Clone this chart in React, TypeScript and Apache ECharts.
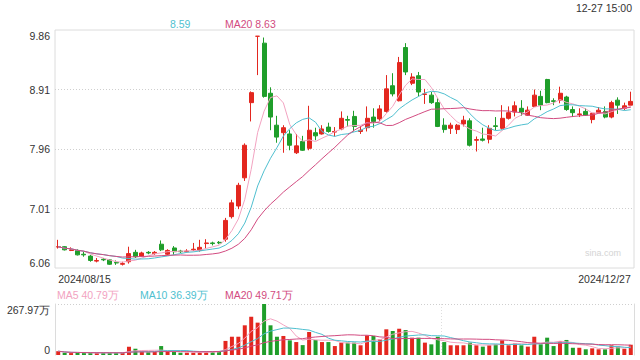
import React, { useEffect, useRef } from "react";
import * as echarts from "echarts";

const dates = (
  "2024/08/15 2024/08/16 2024/08/19 2024/08/20 2024/08/21 2024/08/22 2024/08/23 2024/08/26 2024/08/27 2024/08/28 2024/08/29 2024/08/30 " +
  "2024/09/02 2024/09/03 2024/09/04 2024/09/05 2024/09/06 2024/09/09 2024/09/10 2024/09/11 2024/09/12 2024/09/13 2024/09/18 2024/09/19 2024/09/20 2024/09/23 2024/09/24 2024/09/25 2024/09/26 2024/09/27 2024/09/30 " +
  "2024/10/08 2024/10/09 2024/10/10 2024/10/11 2024/10/14 2024/10/15 2024/10/16 2024/10/17 2024/10/18 2024/10/21 2024/10/22 2024/10/23 2024/10/24 2024/10/25 2024/10/28 2024/10/29 2024/10/30 2024/10/31 " +
  "2024/11/01 2024/11/04 2024/11/05 2024/11/06 2024/11/07 2024/11/08 2024/11/11 2024/11/12 2024/11/13 2024/11/14 2024/11/15 2024/11/18 2024/11/19 2024/11/20 2024/11/21 2024/11/22 2024/11/25 2024/11/26 2024/11/27 2024/11/28 2024/11/29 " +
  "2024/12/02 2024/12/03 2024/12/04 2024/12/05 2024/12/06 2024/12/09 2024/12/10 2024/12/11 2024/12/12 2024/12/13 2024/12/16 2024/12/17 2024/12/18 2024/12/19 2024/12/20 2024/12/23 2024/12/24 2024/12/25 2024/12/26 2024/12/27"
).split(" ");

const opens = [
  6.395, 6.40, 6.34, 6.34, 6.28, 6.25, 6.17, 6.20, 6.19, 6.15, 6.12, 6.16, 6.31, 6.25, 6.31, 6.29, 6.44, 6.28, 6.38, 6.33,
  6.32, 6.35, 6.34, 6.45, 6.46, 6.47, 6.52, 6.88, 7.05, 7.50, 8.70, 9.76, 9.65, 8.85, 8.34, 8.22, 8.20, 7.90, 8.08, 7.97,
  8.22, 8.20, 8.31, 8.23, 8.28, 8.43, 8.48, 8.24, 8.30, 8.47, 8.44, 8.56, 8.97, 8.73, 9.58, 9.01, 9.13, 8.83, 8.82, 8.70,
  8.34, 8.29, 8.27, 8.36, 8.41, 8.10, 8.12, 8.115, 8.33, 8.29, 8.45, 8.55, 8.61, 8.50, 8.64, 8.80, 9.07, 8.73, 8.74, 8.79,
  8.59, 8.51, 8.56, 8.43, 8.54, 8.56, 8.47, 8.74, 8.61, 8.66,
];
const closes = [
  6.40, 6.35, 6.35, 6.27, 6.27, 6.18, 6.18, 6.19, 6.12, 6.14, 6.13, 6.29, 6.24, 6.30, 6.30, 6.31, 6.35, 6.34, 6.32, 6.32,
  6.33, 6.36, 6.39, 6.46, 6.45, 6.46, 6.82, 7.10, 7.38, 8.02, 8.86, 9.76, 8.80, 8.47, 8.15, 8.30, 8.02, 8.01, 7.94, 8.26,
  8.17, 8.28, 8.24, 8.24, 8.45, 8.42, 8.32, 8.26, 8.45, 8.40, 8.60, 8.92, 8.84, 9.34, 9.19, 9.11, 8.87, 8.84, 8.70, 8.32,
  8.27, 8.34, 8.34, 8.42, 8.02, 8.11, 8.10, 8.29, 8.32, 8.45, 8.54, 8.65, 8.55, 8.58, 8.82, 8.66, 8.70, 8.72, 8.85, 8.59,
  8.54, 8.52, 8.50, 8.53, 8.58, 8.47, 8.70, 8.66, 8.65, 8.72,
];
const lows = [
  6.37, 6.34, 6.33, 6.26, 6.24, 6.16, 6.15, 6.17, 6.11, 6.11, 6.10, 6.13, 6.22, 6.24, 6.28, 6.27, 6.33, 6.26, 6.27, 6.30,
  6.31, 6.33, 6.32, 6.37, 6.42, 6.44, 6.48, 6.85, 7.00, 7.45, 8.40, 9.14, 8.78, 8.26, 8.06, 7.90, 7.94, 7.88, 7.93, 7.94,
  8.10, 8.19, 8.22, 8.16, 8.26, 8.32, 8.24, 8.20, 8.24, 8.30, 8.40, 8.54, 8.80, 8.72, 9.14, 8.98, 8.80, 8.68, 8.68, 8.31,
  8.22, 8.20, 8.20, 8.32, 8.00, 7.92, 8.08, 8.05, 8.26, 8.27, 8.43, 8.48, 8.49, 8.49, 8.63, 8.58, 8.69, 8.66, 8.69, 8.57,
  8.47, 8.47, 8.49, 8.37, 8.53, 8.45, 8.45, 8.52, 8.58, 8.66,
];
const highs = [
  6.51, 6.41, 6.39, 6.36, 6.32, 6.27, 6.22, 6.22, 6.20, 6.18, 6.16, 6.40, 6.35, 6.32, 6.33, 6.33, 6.50, 6.36, 6.41, 6.35,
  6.36, 6.46, 6.51, 6.52, 6.48, 6.49, 6.86, 7.15, 7.42, 8.05, 8.88, 9.76, 9.74, 8.945, 8.49, 8.34, 8.26, 8.20, 8.17, 8.65,
  8.30, 8.34, 8.38, 8.31, 8.56, 8.49, 8.57, 8.32, 8.64, 8.61, 8.66, 9.14, 9.17, 9.43, 9.65, 9.17, 9.19, 8.92, 8.87, 8.77,
  8.45, 8.38, 8.36, 8.49, 8.45, 8.16, 8.30, 8.34, 8.47, 8.66, 8.64, 8.72, 8.74, 8.64, 8.91, 8.89, 9.08, 8.77, 8.955, 8.81,
  8.64, 8.61, 8.61, 8.54, 8.63, 8.64, 8.73, 8.785, 8.70, 8.875,
];
// volume in 万 (10k shares)
const volumes = [
  20, 12, 10, 12, 10, 12, 10, 11, 12, 11, 12, 44, 33, 18, 14, 16, 47, 20, 16, 12,
  12, 12, 16, 16, 16, 21, 74, 96, 96, 156, 201, 170, 268, 156, 96, 100, 77, 68, 52, 121,
  79, 68, 68, 47, 65, 65, 65, 51, 103, 100, 82, 135, 126, 138, 131, 91, 91, 65, 56, 96,
  68, 51, 51, 51, 65, 51, 44, 51, 56, 77, 51, 61, 51, 44, 96, 56, 91, 47, 73, 79,
  38, 38, 30, 35, 30, 30, 51, 44, 33, 54,
];

const priceTicks = [6.06, 7.01, 7.96, 8.91, 9.86];
const volumeTicks = [0, 267.97];
const priceLegend = [
  { name: "MA10", value: "8.59", color: "#4fbfcf", x: 170, text: "8.59" },
  { name: "MA20", value: "8.63", color: "#d24b80", x: 225, text: "MA20 8.63" },
];
const volumeLegend = [
  { text: "MA5 40.79万", color: "#f2a3c1", x: 57 },
  { text: "MA10 36.39万", color: "#4fbfcf", x: 140 },
  { text: "MA20 49.71万", color: "#d24b80", x: 225 },
];

const UP = "#e3271f";
const DOWN = "#1f9e2a";
const MA5C = "#f2a3c1";
const MA10C = "#4fbfcf";
const MA20C = "#d24b80";
const FONT = "'Liberation Sans', Arial, Helvetica, sans-serif";

function movingAvg(arr: number[], n: number) {
  return arr.map((_, i) => {
    const s = Math.max(0, i - n + 1);
    let sum = 0;
    for (let k = s; k <= i; k++) sum += arr[k];
    return +(sum / (i - s + 1)).toFixed(3);
  });
}

export default function App() {
  const ref = useRef<HTMLDivElement>(null);
  useEffect(() => {
    if (!ref.current) return;
    const chart = echarts.init(ref.current, undefined, { renderer: "svg" });
    const kData = opens.map((o, i) => [o, closes[i], lows[i], highs[i]]);
    const volData = volumes.map((v, i) => ({
      value: v,
      itemStyle: { color: closes[i] >= opens[i] ? UP : DOWN },
    }));
    const lineS = (name: string, data: number[], color: string, xi: number, yi: number) => ({
      type: "line",
      name,
      data,
      xAxisIndex: xi,
      yAxisIndex: yi,
      symbol: "none",
      lineStyle: { color, width: 1 },
      z: 3,
      silent: true,
    });
    const option: any = {
      animation: false,
      textStyle: { fontFamily: FONT },
      grid: [
        { left: 55, right: 6, top: 30, height: 238, show: true, borderColor: "#dcdcdc", borderWidth: 1 },
        { left: 55, right: 6, top: 304, height: 51 },
      ],
      xAxis: [
        {
          type: "category",
          data: dates,
          gridIndex: 0,
          boundaryGap: true,
          axisLine: { show: false },
          axisTick: { show: false },
          splitLine: { show: false },
          axisLabel: {
            show: true,
            interval: (idx: number) => idx === 0 || idx === dates.length - 1,
            color: "#333",
            fontSize: 10.5,
            margin: 5,
            alignMinLabel: "left",
            alignMaxLabel: "right",
            showMinLabel: true,
            showMaxLabel: true,
          },
        },
        {
          type: "category",
          data: dates,
          gridIndex: 1,
          boundaryGap: true,
          axisLine: { show: false },
          axisTick: { show: false },
          axisLabel: { show: false },
          splitLine: { show: false },
        },
      ],
      yAxis: [
        {
          type: "value",
          gridIndex: 0,
          min: priceTicks[0],
          max: priceTicks[priceTicks.length - 1],
          interval: +(priceTicks[1] - priceTicks[0]).toFixed(2),
          axisLine: { show: false },
          axisTick: { show: false },
          axisLabel: {
            color: "#333",
            fontSize: 10.5,
            margin: 5,
            formatter: (v: number) => v.toFixed(2),
            verticalAlignMinLabel: "bottom",
            verticalAlignMaxLabel: "top",
          },
          splitLine: {
            show: true,
            showMinLine: false,
            showMaxLine: false,
            lineStyle: { color: "#cfcfcf", type: [1, 2], width: 1 },
          },
        },
        {
          type: "value",
          gridIndex: 1,
          min: volumeTicks[0],
          max: volumeTicks[1],
          interval: volumeTicks[1],
          axisLine: { show: true, lineStyle: { color: "#dcdcdc" } },
          axisTick: { show: false },
          axisLabel: {
            color: "#333",
            fontSize: 10.5,
            margin: 5,
            formatter: (v: number) => (v === 0 ? "0" : v.toFixed(2) + "万"),
            verticalAlignMinLabel: "bottom",
            verticalAlignMaxLabel: "top",
          },
          splitLine: {
            show: true,
            showMinLine: false,
            lineStyle: { color: "#cfcfcf", type: [1, 2], width: 1 },
          },
        },
        {
          type: "value",
          gridIndex: 1,
          position: "right",
          min: volumeTicks[0],
          max: volumeTicks[1],
          interval: volumeTicks[1],
          axisLine: { show: true, lineStyle: { color: "#dcdcdc" } },
          axisTick: { show: false },
          axisLabel: { show: false },
          splitLine: { show: false },
        },
      ],
      series: [
        {
          type: "candlestick",
          data: kData,
          xAxisIndex: 0,
          yAxisIndex: 0,
          barWidth: 4.5,
          itemStyle: { color: UP, color0: DOWN, borderColor: UP, borderColor0: DOWN, borderWidth: 1 },
          z: 2,
        },
        lineS("MA5", movingAvg(closes, 5), MA5C, 0, 0),
        lineS("MA10", movingAvg(closes, 10), MA10C, 0, 0),
        lineS("MA20", movingAvg(closes, 20), MA20C, 0, 0),
        {
          type: "bar",
          data: volData,
          xAxisIndex: 1,
          yAxisIndex: 1,
          barWidth: 4,
          z: 2,
        },
        lineS("VMA5", movingAvg(volumes, 5), MA5C, 1, 1),
        lineS("VMA10", movingAvg(volumes, 10), MA10C, 1, 1),
        lineS("VMA20", movingAvg(volumes, 20), MA20C, 1, 1),
      ],
      graphic: [
        ...priceLegend.map((l) => ({
          type: "text",
          x: l.x,
          y: 24,
          style: { text: l.text, fill: l.color, font: `10.5px ${FONT}`, verticalAlign: "middle" },
        })),
        ...volumeLegend.map((l) => ({
          type: "text",
          x: l.x,
          y: 295,
          style: { text: l.text, fill: l.color, font: `10.5px ${FONT}`, verticalAlign: "middle" },
        })),
        {
          type: "text",
          x: 632,
          y: 8,
          style: { text: "12-27 15:00", fill: "#333", font: `10.5px ${FONT}`, align: "right", verticalAlign: "middle" },
        },
        {
          type: "text",
          x: 621,
          y: 253,
          style: { text: "sina.com", fill: "#d4d4d4", font: `9px ${FONT}`, align: "right", verticalAlign: "middle" },
        },
        {
          type: "line",
          shape: { x1: 441.5, y1: 304, x2: 441.5, y2: 355 },
          style: { stroke: "#dedede", lineWidth: 1, lineDash: [1, 2] },
          z: 0,
        },
      ],
    };
    chart.setOption(option);
    return () => chart.dispose();
  }, []);
  return <div ref={ref} style={{ width: 640, height: 360, position: "absolute", left: 0, top: 0, background: "#fff" }} />;
}
